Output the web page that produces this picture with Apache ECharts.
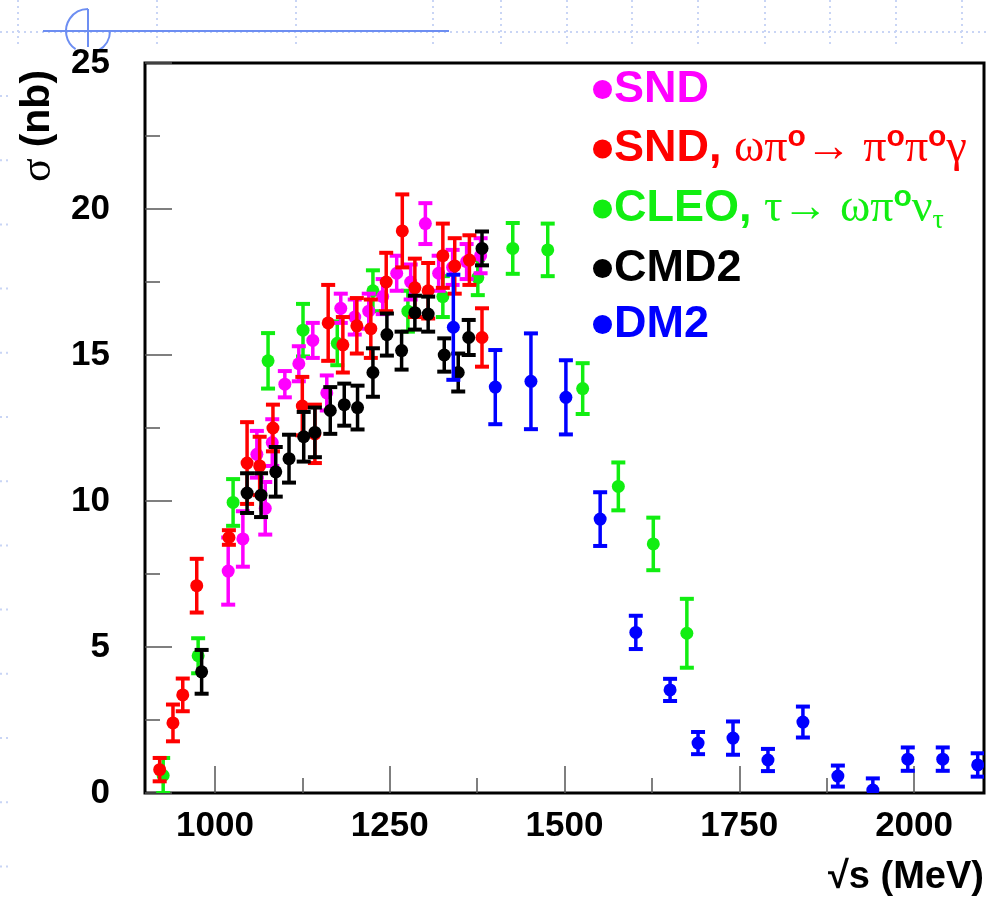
<!DOCTYPE html>
<html>
<head>
    <meta charset="UTF-8">
    <title>sigma(e+e- -> omega pi0)</title>
    <style>
        html, body { margin: 0; padding: 0; background: #fff; }
    </style>
</head>
<body>
    <div id="container" style="width: 989px;height: 902px;"></div>
    <script src="https://cdn.jsdelivr.net/npm/echarts@6/dist/echarts.min.js"></script>
    <script type="text/javascript">
        // points: [sqrt(s) MeV, sigma nb, error]
        var sndPoints = [
            [1019, 7.6, 1.15], [1040, 8.7, 0.95], [1060, 11.6, 0.8], [1072, 9.75, 0.9],
            [1082, 12.0, 0.8], [1100, 14.0, 0.45], [1120, 14.7, 0.6], [1140, 15.5, 0.6],
            [1160, 13.7, 0.6], [1180, 16.6, 0.5], [1200, 16.3, 0.6], [1220, 16.5, 0.6],
            [1240, 17.0, 0.6], [1260, 17.8, 0.6], [1280, 17.5, 0.6], [1301, 19.5, 0.7],
            [1320, 17.8, 0.6], [1340, 18.0, 0.6], [1360, 18.2, 0.6], [1380, 18.4, 0.6]
        ];
        var sndNeutralPoints = [
            [921, 0.8, 0.4], [940, 2.4, 0.63], [954, 3.36, 0.56], [974, 7.1, 0.92],
            [1020, 8.75, 0.25], [1046, 11.3, 1.4], [1064, 11.2, 1.0], [1083, 12.5, 0.8],
            [1125, 13.25, 1.0], [1143, 12.3, 1.0], [1162, 16.1, 1.3], [1183, 15.35, 0.95],
            [1203, 16.0, 0.95], [1223, 15.9, 1.0], [1245, 17.5, 1.0], [1268, 19.25, 1.25],
            [1286, 17.3, 1.0], [1305, 17.2, 0.95], [1326, 18.4, 1.1], [1343, 18.05, 0.95],
            [1364, 18.25, 0.85], [1382, 15.6, 1.0]
        ];
        var cleoPoints = [
            [926, 0.6, 0.6], [976, 4.7, 0.6], [1026, 9.95, 0.8], [1076, 14.8, 0.95],
            [1126, 15.85, 0.9], [1175, 15.4, 0.75], [1226, 17.2, 0.7], [1276, 16.5, 0.7],
            [1326, 17.0, 0.7], [1376, 17.65, 0.6], [1426, 18.65, 0.87], [1476, 18.6, 0.9],
            [1526, 13.85, 0.87], [1577, 10.5, 0.82], [1627, 8.53, 0.9], [1675, 5.47, 1.18]
        ];
        var cmd2Points = [
            [981, 4.15, 0.75], [1046, 10.27, 0.68], [1066, 10.2, 0.75], [1087, 11.0, 0.85],
            [1106, 11.45, 0.82], [1127, 12.2, 0.85], [1143, 12.35, 0.85], [1165, 13.1, 0.8],
            [1185, 13.3, 0.72], [1204, 13.2, 0.75], [1226, 14.4, 0.83], [1246, 15.7, 0.72],
            [1267, 15.15, 0.65], [1286, 16.45, 0.58], [1305, 16.4, 0.6], [1328, 15.0, 0.57],
            [1348, 14.4, 0.65], [1363, 15.6, 0.6], [1382, 18.65, 0.58]
        ];
        var dm2Points = [
            [1341, 15.95, 1.8], [1401, 13.9, 1.27], [1452, 14.1, 1.64], [1502, 13.55, 1.27],
            [1551, 9.38, 0.92], [1602, 5.5, 0.57], [1651, 3.53, 0.38], [1691, 1.71, 0.38],
            [1741, 1.88, 0.57], [1791, 1.13, 0.38], [1841, 2.43, 0.53], [1891, 0.58, 0.36],
            [1941, 0.1, 0.4], [1991, 1.16, 0.4], [2041, 1.16, 0.4], [2091, 0.96, 0.4]
        ];
        var xMajor = [1000, 1250, 1500, 1750, 2000];
        var xMinor = [1125, 1375, 1625, 1875];
        var seriesNames = ['SND', 'SND, ωπ°→ π°π°γ', 'CLEO, τ→ ωπ°ν_τ', 'CMD2', 'DM2'];
        var seriesColors = ['#ff00ff', '#ff0000', '#11ee11', '#000000', '#0000ff'];

        var myChart = echarts.init(document.getElementById('container'));

        // error bar + dot
        function renderItem(params, api) {
            var x = api.value(0), y = api.value(1), e = api.value(2);
            var c = api.coord([x, y]);
            var hi = api.coord([x, y + e]);
            var lo = api.coord([x, y - e]);
            var col = api.visual('color');
            var cap = 7;
            return {
                type: 'group',
                children: [
                    { type: 'line', shape: { x1: c[0], y1: hi[1], x2: c[0], y2: lo[1] }, style: { stroke: col, lineWidth: 3.5 } },
                    { type: 'line', shape: { x1: c[0] - cap, y1: hi[1], x2: c[0] + cap, y2: hi[1] }, style: { stroke: col, lineWidth: 4 } },
                    { type: 'line', shape: { x1: c[0] - cap, y1: lo[1], x2: c[0] + cap, y2: lo[1] }, style: { stroke: col, lineWidth: 4 } },
                    { type: 'circle', shape: { cx: c[0], cy: c[1], r: 6.5 }, style: { fill: col } }
                ]
            };
        }

        function errSeries(idx, points) {
            return {
                name: seriesNames[idx],
                type: 'custom',
                renderItem: renderItem,
                clip: true,
                encode: { x: 0, y: 1 },
                itemStyle: { color: seriesColors[idx] },
                data: points
            };
        }

        var legendRich = {
            b: { fontSize: 45, fontWeight: 'bold', fontFamily: 'Liberation Sans', lineHeight: 52 },
            g: { fontSize: 46, fontWeight: 'normal', fontFamily: 'Liberation Serif', lineHeight: 52 },
            s: { fontSize: 30, fontWeight: 'bold', fontFamily: 'Liberation Sans', lineHeight: 28, verticalAlign: 'top' },
            u: { fontSize: 28, fontWeight: 'normal', fontFamily: 'Liberation Serif', lineHeight: 28, verticalAlign: 'bottom' }
        };
        var legendText = {};
        legendText[seriesNames[0]] = '{b|SND}';
        legendText[seriesNames[1]] = '{b|SND, }{g|ωπ}{s|o}{g|→ π}{s|o}{g|π}{s|o}{g|γ}';
        legendText[seriesNames[2]] = '{b|CLEO, }{g|τ→ ωπ}{s|o}{g|ν}{u|τ}';
        legendText[seriesNames[3]] = '{b|CMD2}';
        legendText[seriesNames[4]] = '{b|DM2}';

        var dotted = { stroke: '#c9d5f5', lineWidth: 2, lineDash: [2, 4] };
        var topCols = [18, 157, 296, 433, 501, 567, 632, 698, 765, 830, 896, 962];
        var deco = [];
        topCols.forEach(function (x) {
            deco.push({ type: 'line', shape: { x1: x, y1: 0, x2: x, y2: 47 }, style: dotted, silent: true });
        });
        deco.push({ type: 'line', shape: { x1: 0, y1: 32, x2: 989, y2: 32 }, style: dotted, silent: true });
        for (var yy = 96; yy < 902; yy += 64.2) {
            deco.push({ type: 'line', shape: { x1: 0, y1: yy, x2: 12, y2: yy }, style: dotted, silent: true });
        }
        var blue = { stroke: '#6d8ef2', lineWidth: 2, fill: null };
        deco.push({ type: 'line', shape: { x1: 43, y1: 31, x2: 449, y2: 31 }, style: blue, silent: true });
        deco.push({ type: 'line', shape: { x1: 88, y1: 9, x2: 88, y2: 47 }, style: blue, silent: true });
        deco.push({ type: 'arc', shape: { cx: 88, cy: 31, r: 22, startAngle: 2.17, endAngle: Math.PI * 1.5, clockwise: true }, style: blue, silent: true });
        deco.push({ type: 'arc', shape: { cx: 88, cy: 31, r: 22, startAngle: 0, endAngle: 1.06, clockwise: true }, style: blue, silent: true });
        // axis titles
        deco.push({
            type: 'text', x: 38, y: 126, rotation: Math.PI / 2,
            style: {
                text: '{g|σ }{b|(nb)}', align: 'center', verticalAlign: 'middle', fill: '#000',
                rich: {
                    g: { fontSize: 44, fontFamily: 'Liberation Serif', fill: '#000' },
                    b: { fontSize: 41, fontWeight: 'bold', fontFamily: 'Liberation Sans', fill: '#000' }
                }
            }
        });
        deco.push({
            type: 'text', x: 984, y: 878,
            style: { text: '√s (MeV)', align: 'right', verticalAlign: 'middle', fill: '#000', fontSize: 38, fontWeight: 'bold', fontFamily: 'Liberation Sans' }
        });

        var tickStyle = { color: '#555', width: 1.5 };
        var option = {
            animation: false,
            backgroundColor: '#fff',
            grid: { left: 145, right: 5, top: 63, bottom: 109, show: true, borderColor: '#000', borderWidth: 3, backgroundColor: 'transparent' },
            legend: {
                orient: 'vertical', left: 588, top: 62, icon: 'circle',
                itemWidth: 19, itemHeight: 19, itemGap: 11,
                selectedMode: false,
                data: seriesNames.map(function (n, i) { return { name: n, textStyle: { color: seriesColors[i] } }; }),
                formatter: function (name) { return legendText[name]; },
                textStyle: { fontSize: 45, fontWeight: 'bold', fontFamily: 'Liberation Sans', padding: [0, 0, 0, -3], rich: legendRich }
            },
            xAxis: [{
                type: 'value', min: 900, max: 2100, position: 'bottom',
                axisLine: { show: false }, splitLine: { show: false },
                axisTick: { inside: true, length: 27, lineStyle: tickStyle, customValues: xMajor },
                axisLabel: {
                    customValues: xMajor, fontSize: 35, fontWeight: 'bold', fontFamily: 'Liberation Sans', color: '#000', margin: 16,
                    formatter: function (v) { return String(v); }
                }
            }, {
                type: 'value', min: 900, max: 2100, position: 'bottom',
                axisLine: { show: false }, splitLine: { show: false },
                axisLabel: { show: false },
                axisTick: { inside: true, length: 15, lineStyle: tickStyle, customValues: xMinor }
            }],
            yAxis: {
                type: 'value', min: 0, max: 25, interval: 5,
                axisLine: { show: false }, splitLine: { show: false },
                axisTick: { inside: true, length: 27, lineStyle: tickStyle },
                minorTick: { show: true, splitNumber: 2, length: 15, lineStyle: tickStyle },
                axisLabel: { fontSize: 35, fontWeight: 'bold', fontFamily: 'Liberation Sans', color: '#000', margin: 35 }
            },
            graphic: deco,
            // drawing order: green, magenta, red, black, blue on top
            series: [
                errSeries(2, cleoPoints),
                errSeries(0, sndPoints),
                errSeries(1, sndNeutralPoints),
                errSeries(3, cmd2Points),
                errSeries(4, dm2Points)
            ]
        };
        myChart.setOption(option);
    </script>
</body>
</html>
